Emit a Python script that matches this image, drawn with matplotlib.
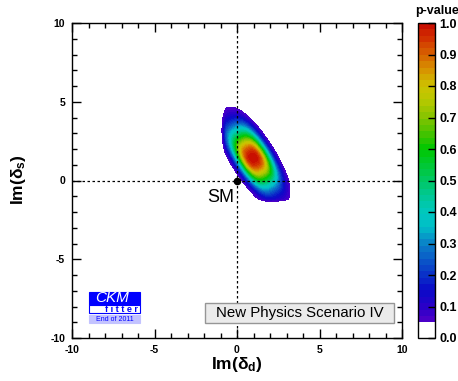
import numpy as np
import matplotlib
matplotlib.use("Agg")
import matplotlib.pyplot as plt
from matplotlib.colors import LinearSegmentedColormap
from matplotlib.patches import Rectangle

plt.rcParams['font.family'] = ['Liberation Sans', 'DejaVu Sans']
plt.rcParams['axes.unicode_minus'] = False
plt.rcParams['mathtext.default'] = 'regular'

# ---- data ----
x_range = [-10, 10]
y_range = [-10, 10]
major_ticks = [-10, -5, 0, 5, 10]
cbar_ticks = [0.0, 0.1, 0.2, 0.3, 0.4, 0.5, 0.6, 0.7, 0.8, 0.9, 1.0]
sm_point = [0.0, 0.0]
# allowed region model (shape of the p-value map)
region_center = [0.97, 1.45]
region_angle_deg = -59.0      # direction of the long axis
region_half_long = 3.55
region_half_short = 1.36
region_power_long = 2.0
region_power_short = 2.8
wall_xmin = -0.62
wall_xmax = 3.05
wall_ymin = -1.08
wall_sigma = 0.2
# palette stops (value, colour)
pal_values = [0.05, 0.10, 0.15, 0.20, 0.25, 0.30, 0.35, 0.40, 0.45, 0.50,
              0.55, 0.60, 0.65, 0.70, 0.75, 0.80, 0.85, 0.90, 0.95, 1.00]
pal_colors = ['#5000c8', '#2800c8', '#0a0ac8', '#0a32c8', '#0a5ac8', '#0a82c8',
              '#00bec8', '#00c8be', '#00c896', '#00c864', '#00c832', '#00c800',
              '#46c300', '#82c300', '#b4c800', '#cdc300', '#d79600', '#d76400',
              '#d23200', '#c80a00']
levels = [0.0] + list(np.round(np.linspace(0.05, 1.0, 48), 4))

W, H = 458, 381
fig = plt.figure(figsize=(W / 100, H / 100), dpi=100)

def fx(px):
    return px / W

def fy(py):
    return 1 - py / H

ax = fig.add_axes([fx(72), fy(338), (402 - 72) / W, (338 - 23) / H])
cax = fig.add_axes([fx(418), fy(338), (435 - 418) / W, (338 - 23) / H])

# p-value map
gx = np.linspace(x_range[0], x_range[1], 801)
gy = np.linspace(y_range[0], y_range[1], 801)
X, Y = np.meshgrid(gx, gy)
th = np.deg2rad(region_angle_deg)
dx, dy = np.cos(th), np.sin(th)
nx, ny = -dy, dx
DX, DY = X - region_center[0], Y - region_center[1]
U = DX * dx + DY * dy
V = DX * nx + DY * ny
chi2 = 5.99 * ((np.abs(U) / region_half_long) ** region_power_long
               + (np.abs(V) / region_half_short) ** region_power_short)
chi2 += (np.clip(wall_xmin - X, 0, None) / wall_sigma) ** 2
chi2 += (np.clip(X - wall_xmax, 0, None) / wall_sigma) ** 2
chi2 += (np.clip(wall_ymin - Y, 0, None) / wall_sigma) ** 2
P = np.exp(-chi2 / 2)

cmap = LinearSegmentedColormap.from_list(
    'pal', [((v - 0.05) / 0.95, c) for v, c in zip(pal_values, pal_colors)])
mids = [(a + b) / 2 for a, b in zip(levels[:-1], levels[1:])]
cols = ['white'] + [cmap((mv - 0.05) / 0.95) for mv in mids[1:]]
cs = ax.contourf(X, Y, P, levels=levels, colors=cols)

ax.axvline(0, color='black', lw=0.9, ls=(0, (2, 2)), zorder=3)
ax.axhline(0, color='black', lw=0.9, ls=(0, (2, 2)), zorder=3)
ax.plot([sm_point[0]], [sm_point[1]], 'o', color='black', ms=4.5, zorder=4)
ax.text(-1.0, -1.05, 'SM', fontsize=13, ha='center', va='center', zorder=4)

ax.set_xlim(*x_range)
ax.set_ylim(*y_range)
ax.set_xticks(major_ticks)
ax.set_yticks(major_ticks)
ax.set_xticks(np.arange(-10, 11, 1), minor=True)
ax.set_yticks(np.arange(-10, 11, 1), minor=True)
ax.tick_params(which='both', direction='in', top=True, right=True, width=1)
ax.tick_params(which='major', length=6.5)
ax.tick_params(which='minor', length=3.6)
ax.tick_params(axis='x', pad=5)
ax.tick_params(axis='y', pad=5)
for lab in ax.get_xticklabels() + ax.get_yticklabels():
    lab.set_fontweight('bold')
    lab.set_fontsize(7.5)
for s in ax.spines.values():
    s.set_linewidth(1)

# legend box
ax.add_patch(Rectangle((0.403, 0.048), 0.573, 0.063, transform=ax.transAxes,
                       facecolor='#ebebeb', edgecolor='#969696', lw=1, zorder=5))
ax.text(0.403 + 0.573 / 2, 0.048 + 0.063 / 2, 'New Physics Scenario IV',
        transform=ax.transAxes, fontsize=10.8, ha='center', va='center', zorder=6)

# colour bar
cb = fig.colorbar(cs, cax=cax, ticks=cbar_ticks, spacing='proportional')
cb.outline.set_linewidth(1)
cax.yaxis.set_ticks_position('right')
cax.tick_params(direction='in', length=5, width=1, pad=3, labelsize=9)
cax.set_yticklabels(['%.1f' % t for t in cbar_ticks], fontweight='bold')
cax.set_ylim(0, 1)
fig.text(fx(437), fy(11), 'p-value', fontsize=9, fontweight='bold',
         ha='center', va='center')

# axis titles
fig.text(fx(237), fy(364), r'Im(δ$_{d}$)', fontsize=12.5, fontweight='bold',
         ha='center', va='center')
fig.text(fx(18), fy(180), r'Im(δ$_{s}$)', fontsize=12.5, fontweight='bold',
         ha='center', va='center', rotation=90)

# CKMfitter logo
def box(x0, y0, x1, y1, fc, ec):
    fig.patches.append(Rectangle((fx(x0), fy(y1)), fx(x1) - fx(x0), fy(y0) - fy(y1),
                                 transform=fig.transFigure, facecolor=fc,
                                 edgecolor=ec, lw=0.8, zorder=10))

box(89, 292, 140, 305, '#0000ff', '#0000ff')
box(89, 305, 140, 313, 'white', '#0000ff')
box(89, 315, 140, 323, '#c3c3ff', '#c3c3ff')
fig.text(fx(112), fy(298.5), 'CKM', fontsize=11, style='italic', color='white',
         ha='center', va='center', zorder=11)
fig.text(fx(138), fy(309.5), 'f i t t e r', fontsize=6.5, fontweight='bold',
         color='#0000ff', ha='right', va='center', zorder=11)
fig.text(fx(114.5), fy(319.5), 'End of 2011', fontsize=5, color='#0000ff',
         ha='center', va='center', zorder=11)

fig.savefig('out.png', dpi=100)
